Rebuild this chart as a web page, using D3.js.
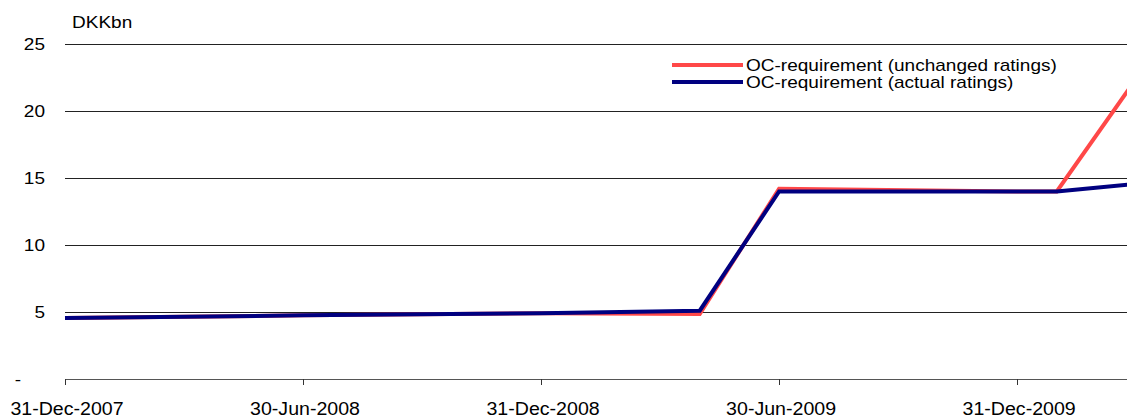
<!DOCTYPE html>
<html>
<head>
<meta charset="utf-8">
<script src="https://cdn.jsdelivr.net/npm/d3@7"></script>
<style>
  body { margin: 0; background: #fff; }
  text { font-family: "Liberation Sans", Arial, sans-serif; fill: #000; }
</style>
</head>
<body>
<script>
// data (DKK bn), one point per month-end used
var dates = ['2007-12-31', '2008-06-30', '2008-12-31', '2009-04-30', '2009-06-30', '2009-12-31', '2010-01-31', '2010-03-31'];
var unchanged = [4.55, 4.75, 4.9, 4.85, 14.2, 14.0, 14.0, 22.4];
var actual = [4.55, 4.75, 4.9, 5.1, 14.0, 14.0, 14.0, 14.57];
var tickDates = ['2007-12-31', '2008-06-30', '2008-12-31', '2009-06-30', '2009-12-31'];
var tickLabels = ['31-Dec-2007', '30-Jun-2008', '31-Dec-2008', '30-Jun-2009', '31-Dec-2009'];
var yTicks = [0, 5, 10, 15, 20, 25];
var seriesNames = ['OC-requirement (unchanged ratings)', 'OC-requirement (actual ratings)'];
var colors = ['#ff4848', '#000080'];

var W = 1127, H = 419;
var mLeft = 65, mRight = 1127, mTop = 44, mBottom = 379;
var parse = d3.timeParse('%Y-%m-%d');
var stretch = 1.12; // text in the original is a bit wide

// month-end category axis: months counted from Dec 2007
function monthIdx(s) {
  var d = parse(s);
  return (d.getFullYear() - 2007) * 12 + d.getMonth() - 11;
}

var svg = d3.select(document.body).append('svg')
  .attr('width', W).attr('height', H);

var x = d3.scaleLinear()
  .domain([0, 26.77])
  .range([mLeft, mRight]);
var y = d3.scaleLinear().domain([0, 25]).range([mBottom, mTop]);

function place(sel, fx, fy) {
  sel.attr('transform', function(d, i){
    return 'translate(' + fx(d, i) + ',' + fy(d, i) + ') scale(' + stretch + ',1)';
  });
}

// gridlines
svg.append('g').selectAll('line')
  .data(yTicks.filter(function(d){ return d > 0; }))
  .enter().append('line')
  .attr('x1', mLeft).attr('x2', mRight)
  .attr('y1', function(d){ return Math.round(y(d)) + 0.5; })
  .attr('y2', function(d){ return Math.round(y(d)) + 0.5; })
  .attr('stroke', '#222').attr('stroke-width', 1);

// y labels
var yl = svg.append('g').selectAll('text')
  .data(yTicks)
  .enter().append('text')
  .attr('text-anchor', 'end')
  .style('font-size', '17px')
  .text(function(d){ return d === 0 ? '-' : d; });
place(yl, function(d){ return d === 0 ? 21 : 45; }, function(d){ return y(d) + 6; });

var unit = svg.append('text')
  .style('font-size', '17px')
  .text('DKKbn');
place(unit, function(){ return 72; }, function(){ return 28; });

// x axis
var xAxis = svg.append('g');
xAxis.append('line')
  .attr('x1', mLeft).attr('x2', mRight)
  .attr('y1', mBottom + 0.5).attr('y2', mBottom + 0.5)
  .attr('stroke', '#555').attr('stroke-width', 1);
xAxis.selectAll('.tick')
  .data(tickDates)
  .enter().append('line')
  .attr('x1', function(d){ return Math.round(x(monthIdx(d))) + 0.5; })
  .attr('x2', function(d){ return Math.round(x(monthIdx(d))) + 0.5; })
  .attr('y1', mBottom).attr('y2', mBottom + 6)
  .attr('stroke', '#333');
var xl = xAxis.selectAll('text')
  .data(tickDates)
  .enter().append('text')
  .attr('text-anchor', 'middle')
  .style('font-size', '17.5px')
  .text(function(d, i){ return tickLabels[i]; });
place(xl, function(d){ return x(monthIdx(d)) + 2; }, function(){ return 415; });

// lines
var line = d3.line()
  .x(function(d){ return x(d[0]); })
  .y(function(d){ return y(d[1]); });

[unchanged, actual].forEach(function(vals, k){
  var pts = dates.map(function(d, i){ return [monthIdx(d), vals[i]]; });
  svg.append('path')
    .attr('d', line(pts))
    .attr('fill', 'none')
    .attr('stroke', colors[k])
    .attr('stroke-width', 4)
    .attr('stroke-linejoin', 'miter');
});

// legend
var leg = svg.append('g');
seriesNames.forEach(function(name, i){
  var ly = 65 + i * 17;
  leg.append('line')
    .attr('x1', 672).attr('x2', 743)
    .attr('y1', ly).attr('y2', ly)
    .attr('stroke', colors[i]).attr('stroke-width', 4);
  var t = leg.append('text')
    .style('font-size', '17px')
    .text(name);
  place(t, function(){ return 746; }, function(){ return ly + 6; });
});
</script>
</body>
</html>
